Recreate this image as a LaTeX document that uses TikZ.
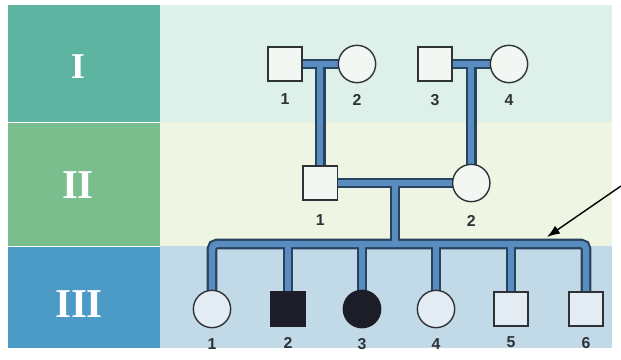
\documentclass[tikz,border=0pt]{standalone}
\usepackage{fontspec}
\setmainfont{Liberation Serif}
\setsansfont{Liberation Sans}
\usepackage{tikz}
\usetikzlibrary{arrows.meta,positioning,calc}
\definecolor{GenOne}{HTML}{5DB5A1}
\definecolor{GenTwo}{HTML}{7ABE8E}
\definecolor{GenThree}{HTML}{4C9AC6}
\definecolor{RowOne}{HTML}{DDF0EA}
\definecolor{RowTwo}{HTML}{EEF5E2}
\definecolor{RowThree}{HTML}{C2D9E8}
\definecolor{LinkEdge}{HTML}{27435F}
\definecolor{LinkBlue}{HTML}{5A8DBF}
\definecolor{Ink}{HTML}{2E3236}
\definecolor{Sick}{HTML}{1C1D26}
\definecolor{Pale}{HTML}{F3F7F4}
\definecolor{PaleBlue}{HTML}{E3ECF2}

\pgfdeclarelayer{panel}
\pgfdeclarelayer{links}
\pgfsetlayers{panel,links,main}

% both passes of the kinship lines
\newcommand\drawkin[1]{%
  \draw[#1] (i1.center) -- (i2.center);
  \draw[#1] (i3.center) -- (i4.center);
  \draw[#1] (m1) -- (ii1.center);
  \draw[#1] (m2) -- (ii2.center);
  \draw[#1] (ii1.center) -- (ii2.center);
  \draw[#1] (m3) -- (sib);
  \draw[#1] (c1.center) |- (sib) -| (c6.center);
  \foreach \k in {2,...,5} \draw[#1] (c\k.center) -- (c\k |- sib);
}

\begin{document}
\begin{tikzpicture}[
  x=0.03cm,y=-0.03cm,
  male/.style={rectangle,draw=Ink,fill=Pale,line width=1.2pt,minimum size=1.03cm,inner sep=0pt},
  female/.style={circle,draw=Ink,fill=Pale,line width=1.2pt,minimum size=1.12cm,inner sep=0pt},
  kid/.style={fill=PaleBlue},
  sick/.style={fill=Sick,draw=Sick},
  num/.style={font=\sffamily\bfseries\fontsize{13.5}{14}\selectfont,text=Ink,inner sep=0pt},
  gen/.style={font=\bfseries\fontsize{35}{35}\selectfont,text=white,inner sep=0pt},
  linkout/.style={draw=LinkEdge,line width=9pt,rounded corners=4pt},
  linkin/.style={draw=LinkBlue,line width=5.4pt,rounded corners=4pt},
  pointer/.style={-{Latex[length=11pt,width=8pt]},line width=1.2pt,draw=black}
]
\useasboundingbox (0,0) rectangle (621,359);

% generation bands
\begin{pgfonlayer}{panel}
\fill[GenOne] (8,5) rectangle (160,122);
\fill[GenTwo] (8,122) rectangle (160,246);
\fill[GenThree] (8,246) rectangle (160,348);
\fill[RowOne] (160,5) rectangle (612,122);
\fill[RowTwo] (160,122) rectangle (612,246);
\fill[RowThree] (160,246) rectangle (612,348);
\draw[white,line width=0.6pt] (8,122) -- (160,122);
\draw[white,line width=0.6pt] (8,246) -- (160,246);
\end{pgfonlayer}

\node[gen,font=\bfseries\fontsize{31}{31}\selectfont] (g1) at (78,67) {I};
\node[gen] (g2) at (78,185) {II};
\node[gen] (g3) at (79,304) {III};

% generation I
\node[male] (i1) at (285,64) {};
\node[female] (i2) at (357,64) {};
\node[male] (i3) at (435,64) {};
\node[female] (i4) at (509,64) {};
\coordinate (m1) at ($(i1.east)!0.5!(i2.west)$);
\coordinate (m2) at ($(i3.east)!0.5!(i4.west)$);

% generation II
\node[male] (ii1) at (m1 |- 0,183) {};
\node[female] (ii2) at (m2 |- 0,183) {};
\coordinate (m3) at ($(ii1.east)!0.5!(ii2.west)$);
\coordinate (sib) at (m3 |- 0,244);

% generation III
\node[female,kid] (c1) at (212,309) {};
\node[male,sick] (c2) at (288,309) {};
\node[female,sick] (c3) at (362,309) {};
\node[female,kid] (c4) at (436,309) {};
\node[male,kid] (c5) at (511,309) {};
\node[male,kid] (c6) at (586,309) {};

\node[num,below=0.36cm of i1] (n1) {1};
\node[num,below=0.34cm of i2] (n2) {2};
\node[num,below=0.36cm of i3] (n3) {3};
\node[num,below=0.34cm of i4] (n4) {4};
\node[num,below=0.4cm of ii1] (n5) {1};
\node[num,below=0.38cm of ii2] (n6) {2};
\foreach \k in {1,...,6}
  \node[num,below=0.3cm of c\k] (nc\k) {\k};

\begin{pgfonlayer}{links}
\drawkin{linkout}
\drawkin{linkin}
\end{pgfonlayer}

\coordinate (tail) at (621,186);
\coordinate (tip) at (547,237);
\draw[pointer] (tail) -- (tip);
\end{tikzpicture}
\end{document}
